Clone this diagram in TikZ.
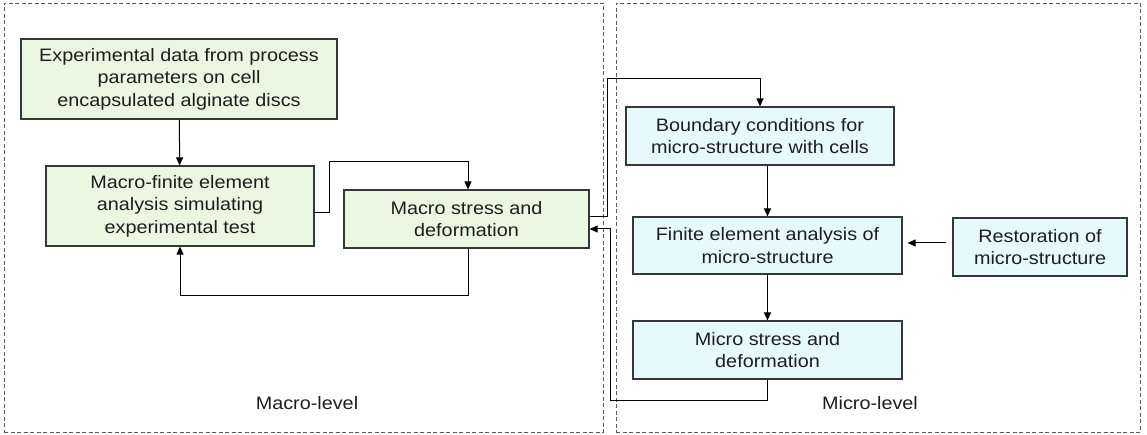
\documentclass[tikz,border=0pt]{standalone}
\usepackage{fontspec}
\setmainfont[FakeStretch=1.1]{Liberation Sans}
\usetikzlibrary{arrows.meta}
\definecolor{gfill}{RGB}{234,248,226}
\definecolor{bfill}{RGB}{230,250,252}
\definecolor{edge}{RGB}{55,55,55}
\definecolor{txt}{RGB}{30,30,30}
\definecolor{dash}{RGB}{90,90,90}
\begin{document}
\begin{tikzpicture}[x=1pt,y=-1pt,
  box/.style={draw=edge, line width=1.1pt, inner sep=0pt, align=center, text=txt,
    font=\fontsize{18pt}{22.5pt}\selectfont},
  gbox/.style={box, fill=gfill},
  bbox/.style={box, fill=bfill},
  region/.style={draw=dash, dash pattern=on 4pt off 2.5pt, line width=0.9pt, inner sep=0pt},
  conn/.style={draw=black, line width=1pt, -{Triangle[length=8pt,width=7pt]}},
  lbl/.style={text=txt, inner sep=0pt, font=\fontsize{18pt}{22.5pt}\selectfont}]
\useasboundingbox (0,0) rectangle (1147,435);
% regions
\node[region, minimum width=599pt, minimum height=429pt] (macroreg) at (303.5,217.5) {};
\node[region, minimum width=524pt, minimum height=429pt] (microreg) at (878,217.5) {};
\node[lbl] (macrolbl) at (307,403) {Macro-level};
\node[lbl] (microlbl) at (870,403) {Micro-level};
% macro boxes
\node[gbox, minimum width=316pt, minimum height=80pt] (exp) at (179,79)
  {Experimental data from process\\parameters on cell\\encapsulated alginate discs};
\node[gbox, minimum width=268pt, minimum height=80pt] (mfe) at (180,206)
  {Macro-finite element\\analysis simulating\\experimental test};
\node[gbox, minimum width=245pt, minimum height=58pt] (mstress) at (466.5,219)
  {Macro stress and\\deformation};
% micro boxes
\node[bbox, minimum width=268pt, minimum height=58pt] (bc) at (760,136)
  {Boundary conditions for\\micro-structure with cells};
\node[bbox, minimum width=269pt, minimum height=57pt] (fe) at (767.5,245.5)
  {Finite element analysis of\\micro-structure};
\node[bbox, minimum width=269pt, minimum height=58pt] (micro) at (767.5,350)
  {Micro stress and\\deformation};
\node[bbox, minimum width=174pt, minimum height=58pt] (rest) at (1040,247)
  {Restoration of\\micro-structure};
% junctions
\coordinate (j1) at (329,162);
\coordinate (j2) at (468,295);
\coordinate (j3) at (607,79);
\coordinate (j4) at (610,400);
% connectors
\draw[conn] (exp) -- (mfe);
\draw[conn] (mfe.east |- 0,213) -| (j1) -| ([xshift=1.5pt]mstress.north);
\draw[conn] ([xshift=1.5pt]mstress.south) |- (j2) -| (mfe.south);
\draw[conn] (mstress.east |- 0,217) -| (j3) -| (bc.north);
\draw[conn] (fe.north |- bc.south) -- (fe.north);
\draw[conn] (fe.south) -- (micro.north);
\draw[conn] (micro.south) |- (j4) |- (mstress.east |- 0,229);
\draw[conn, shorten <=6pt, shorten >=5pt] (rest.west |- 0,243) -- (fe.east |- 0,243);
\end{tikzpicture}
\end{document}
